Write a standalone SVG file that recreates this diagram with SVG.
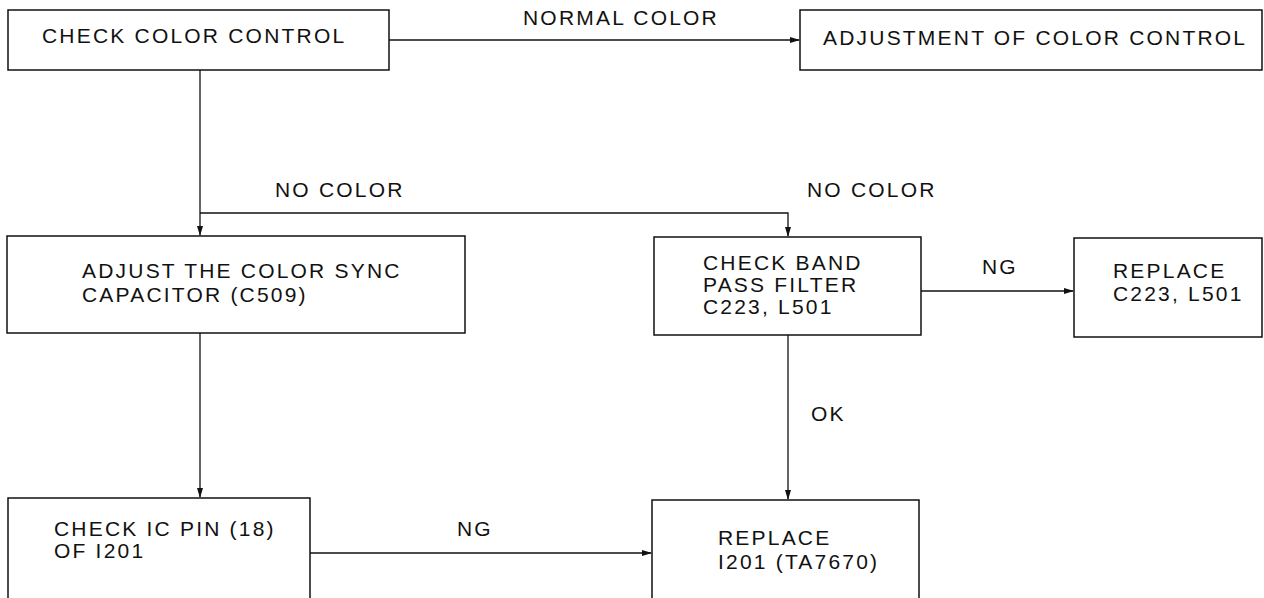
<svg xmlns="http://www.w3.org/2000/svg" width="1264" height="598" viewBox="0 0 1264 598">
<defs>
<style>
.box{fill:#fff;stroke:#111;stroke-width:1.5}
.t{font-family:"Liberation Sans",Arial,sans-serif;font-size:21px;fill:#111;letter-spacing:2.2px}
.c{fill:none;stroke:#111;stroke-width:1.3}
</style>
<marker id="ah" markerWidth="10" markerHeight="8" refX="9" refY="4" orient="auto" markerUnits="userSpaceOnUse">
<path d="M0,1 L10,4 L0,7 Z" fill="#111"/>
</marker>
</defs>
<rect width="1264" height="598" fill="#fff"/>
<g id="connectors">
<path class="c" d="M389,40 H799" marker-end="url(#ah)"/>
<path class="c" d="M200,70 V235" marker-end="url(#ah)"/>
<path class="c" d="M200,213 H788 V236" marker-end="url(#ah)"/>
<path class="c" d="M200,333 V497" marker-end="url(#ah)"/>
<path class="c" d="M921,291 H1073" marker-end="url(#ah)"/>
<path class="c" d="M788,335 V499" marker-end="url(#ah)"/>
<path class="c" d="M310,553 H651" marker-end="url(#ah)"/>
<text class="t" x="523" y="25">NORMAL COLOR</text>
<text class="t" x="275" y="197">NO COLOR</text>
<text class="t" x="807" y="197">NO COLOR</text>
<text class="t" x="982" y="274">NG</text>
<text class="t" x="811" y="421">OK</text>
<text class="t" x="457" y="536">NG</text>
</g>
<g id="check-color-control">
<rect class="box" x="8" y="10" width="381" height="60"/>
<text class="t" x="42" y="43">CHECK COLOR CONTROL</text>
</g>
<g id="adjustment-of-color-control">
<rect class="box" x="800" y="10" width="462" height="60"/>
<text class="t" x="823" y="45">ADJUSTMENT OF COLOR CONTROL</text>
</g>
<g id="adjust-sync-capacitor">
<rect class="box" x="7" y="236" width="458" height="97"/>
<text class="t" x="82" y="278">ADJUST THE COLOR SYNC</text>
<text class="t" x="82" y="302">CAPACITOR (C509)</text>
</g>
<g id="check-band-pass-filter">
<rect class="box" x="654" y="237" width="267" height="98"/>
<text class="t" x="703" y="270">CHECK BAND</text>
<text class="t" x="703" y="292">PASS FILTER</text>
<text class="t" x="703" y="314">C223, L501</text>
</g>
<g id="replace-c223-l501">
<rect class="box" x="1074" y="238" width="188" height="99"/>
<text class="t" x="1113" y="278">REPLACE</text>
<text class="t" x="1113" y="301">C223, L501</text>
</g>
<g id="check-ic-pin">
<rect class="box" x="8" y="498" width="302" height="112"/>
<text class="t" x="54" y="536">CHECK IC PIN (18)</text>
<text class="t" x="54" y="558">OF I201</text>
</g>
<g id="replace-i201">
<rect class="box" x="652" y="500" width="267" height="110"/>
<text class="t" x="718" y="545">REPLACE</text>
<text class="t" x="718" y="569">I201 (TA7670)</text>
</g>
</svg>
